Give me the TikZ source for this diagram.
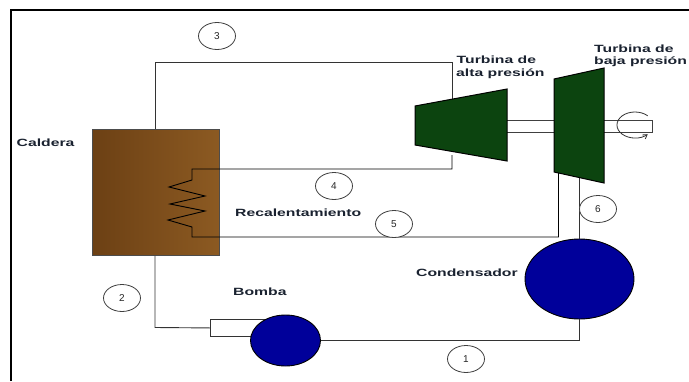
\documentclass[tikz,border=0pt]{standalone}
\usepackage{fontspec}
\setmainfont{Liberation Sans}
\usetikzlibrary{shapes.geometric,arrows.meta,calc}
\definecolor{brownL}{HTML}{6C4014}
\definecolor{brownR}{HTML}{8C5A22}
\definecolor{tgreen}{HTML}{0C440F}
\definecolor{cblue}{HTML}{00009A}
\definecolor{txt}{HTML}{1A2230}
\newcommand{\wlabel}[1]{\scalebox{1.5}[1]{\fontsize{10.5}{12.5}\selectfont\bfseries #1}}
\tikzset{
  pipe/.style={draw=black!80,line width=0.9pt},
  lbl/.style={inner sep=0pt,text=txt,anchor=west,align=left},
  num/.style={draw=black!75,line width=0.8pt,fill=white,ellipse,minimum width=37pt,minimum height=27pt,inner sep=0pt,font=\fontsize{10}{12}\selectfont,text=black!85},
  vessel/.style={draw=black,line width=0.9pt,inner sep=0pt},
  turb/.style={draw=black,line width=1pt,fill=tgreen}
}
\begin{document}
\begin{tikzpicture}[x=1pt,y=-1pt]
\useasboundingbox (0,0) rectangle (689,381);
\fill[white] (0,0) rectangle (689,381);
\coordinate (frameTL) at (11,10);
\coordinate (frameTR) at (689,10);
\coordinate (frameBL) at (11,381);
\draw[black,line width=2pt] (frameBL) -- (frameTL) -- (frameTR);
% boiler
\node[rectangle,vessel,draw=black!70,left color=brownL,right color=brownR,minimum width=127pt,minimum height=126pt,anchor=north west] (caldera) at (92,129) {};
% pump
\node[rectangle,draw=black!80,line width=0.9pt,minimum width=60pt,minimum height=17pt,anchor=north west,inner sep=0pt] (inlet) at (210,319) {};
\node[ellipse,vessel,fill=cblue,minimum width=70pt,minimum height=51pt] (bomba) at (285.5,340.5) {};
% condenser
\node[ellipse,vessel,fill=cblue,minimum width=109pt,minimum height=80pt] (cond) at (579.5,279) {};
% shafts
\coordinate (hpIn) at (452,102);
\coordinate (hpOut) at (452,155);
\coordinate (lpIn) at (558.5,173);
\coordinate (lpOut) at (579.5,178);
\coordinate (sa) at (507,120);
\coordinate (sb) at (507,132);
\coordinate (sc) at (554,120);
\coordinate (sd) at (554,132);
\coordinate (se) at (604,120);
\coordinate (sf) at (604,132);
\coordinate (sg) at (652,120);
\coordinate (sh) at (652,132);
\draw[draw=black!75,line width=0.9pt] (sa) -- (sc) (sb) -- (sd);
\draw[draw=black!75,line width=0.9pt] (se) -- (sg) -- (sh) -- (sf);
\draw[draw=black!80,line width=0.8pt,-{Straight Barb[length=4pt,width=5pt]}] (647.7,115.8) arc[start angle=-45,end angle=-315,x radius=18,y radius=13] ;
% pipes
\coordinate (p3a) at (155,62);
\coordinate (p3b) at (452,62);
\draw[pipe] (caldera.north -| p3a) -- (p3a) -- (p3b) -- (hpIn);
\coordinate (c1) at (192,169);
\coordinate (c2) at (192,180);
\coordinate (c3) at (169,187);
\coordinate (c4) at (205,196);
\coordinate (c5) at (170,204);
\coordinate (c6) at (205,211);
\coordinate (c7) at (168,220);
\coordinate (c8) at (192,227);
\coordinate (c9) at (192,237);
\coordinate (hpr) at (452,169);
\coordinate (lpr) at (558.5,237);
\draw[pipe,draw=black,line join=miter] (hpOut) -- (hpr) -- (c1) -- (c2) -- (c3) -- (c4) -- (c5) -- (c6) -- (c7) -- (c8) -- (c9) -- (lpr) -- (lpIn);
\draw[pipe] (lpOut) -- (cond.north);
\coordinate (p1) at (579.5,340.5);
\draw[pipe] (cond.south) -- (p1) -- (bomba.east);
\coordinate (p2) at (155,327.5);
\draw[pipe] (caldera.south -| p2) -- (p2) -- (inlet.west);
% turbines
\coordinate (h1) at (415,106);
\coordinate (h2) at (507,89);
\coordinate (h3) at (507,161);
\coordinate (h4) at (415,145);
\draw[turb] (h1) -- (h2) -- (h3) -- (h4) -- cycle;
\coordinate (l1) at (554,79);
\coordinate (l2) at (604,68);
\coordinate (l3) at (604,183);
\coordinate (l4) at (554,172);
\draw[turb] (l1) -- (l2) -- (l3) -- (l4) -- cycle;
% numbers
\node[num] (n3) at (217,36) {3};
\node[num] (n4) at (334,186) {4};
\node[num] (n5) at (394,224) {5};
\node[num] (n6) at (598,209) {6};
\node[num] (n1) at (466,359) {1};
\node[num] (n2) at (122,298) {2};
% labels
\node[lbl] (lc) at (16.5,143) {\wlabel{Caldera}};
\node[lbl] (lh1) at (456.5,60) {\wlabel{Turbina de}};
\node[lbl] (lh2) at (456,74) {\wlabel{alta presión}};
\node[lbl] (ll1) at (594,49) {\wlabel{Turbina de}};
\node[lbl] (ll2) at (594,62) {\wlabel{baja presión}};
\node[lbl] (lr) at (235,213) {\wlabel{Recalentamiento}};
\node[lbl] (lb) at (233,292) {\wlabel{Bomba}};
\node[lbl] (lk) at (416,273) {\wlabel{Condensador}};
\end{tikzpicture}
\end{document}
